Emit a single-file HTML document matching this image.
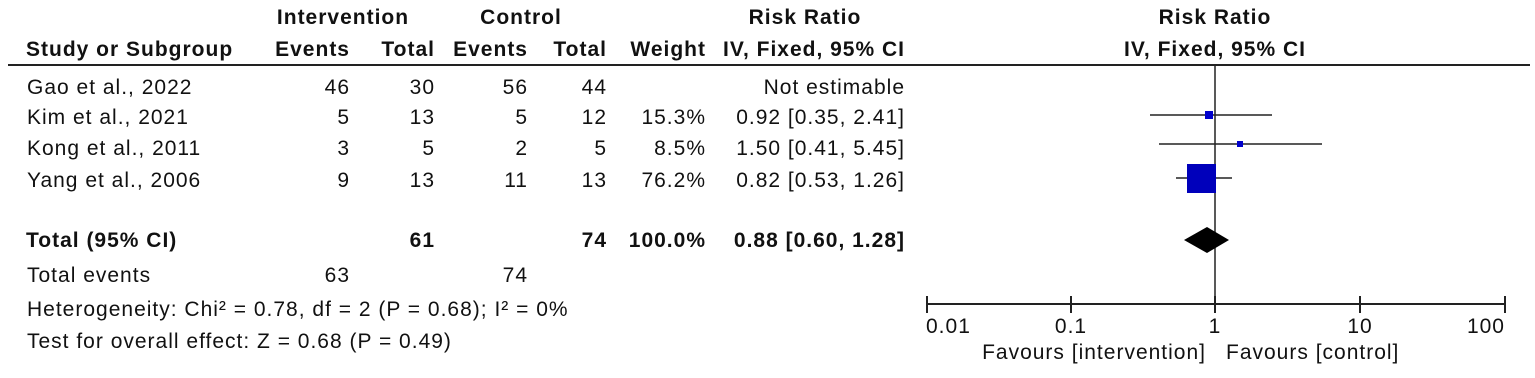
<!DOCTYPE html>
<html><head><meta charset="utf-8"><style>
body{margin:0;width:1535px;height:373px;background:#fff;overflow:hidden;font-family:"Liberation Sans",Arial,sans-serif;color:#111}
svg text{font-family:"Liberation Sans",Arial,sans-serif;font-size:21px;letter-spacing:1px;fill:#111}
</style></head><body>
<svg width="1535" height="373" xmlns="http://www.w3.org/2000/svg">
<g>
<text x="343" y="24" text-anchor="middle" font-weight="bold">Intervention</text>
<text x="521" y="24" text-anchor="middle" font-weight="bold">Control</text>
<text x="805" y="24" text-anchor="middle" font-weight="bold">Risk Ratio</text>
<text x="1215" y="24" text-anchor="middle" font-weight="bold">Risk Ratio</text>
<text x="26" y="56" font-weight="bold">Study or Subgroup</text>
<text x="350" y="56" text-anchor="end" font-weight="bold">Events</text>
<text x="435" y="56" text-anchor="end" font-weight="bold">Total</text>
<text x="528" y="56" text-anchor="end" font-weight="bold">Events</text>
<text x="607" y="56" text-anchor="end" font-weight="bold">Total</text>
<text x="706" y="56" text-anchor="end" font-weight="bold">Weight</text>
<text x="905" y="56" text-anchor="end" font-weight="bold">IV, Fixed, 95% CI</text>
<text x="1215" y="56" text-anchor="middle" font-weight="bold">IV, Fixed, 95% CI</text>
</g>
<line x1="8" y1="65" x2="1530" y2="65" stroke="#222" stroke-width="2"/>
<g>
<text x="27" y="94">Gao et al., 2022</text><text x="350" y="94" text-anchor="end">46</text><text x="435" y="94" text-anchor="end">30</text><text x="528" y="94" text-anchor="end">56</text><text x="607" y="94" text-anchor="end">44</text><text x="905" y="94" text-anchor="end">Not estimable</text>
<text x="27" y="124">Kim et al., 2021</text><text x="350" y="124" text-anchor="end">5</text><text x="435" y="124" text-anchor="end">13</text><text x="528" y="124" text-anchor="end">5</text><text x="607" y="124" text-anchor="end">12</text><text x="706" y="124" text-anchor="end">15.3%</text><text x="905" y="124" text-anchor="end">0.92 [0.35, 2.41]</text>
<text x="27" y="155">Kong et al., 2011</text><text x="350" y="155" text-anchor="end">3</text><text x="435" y="155" text-anchor="end">5</text><text x="528" y="155" text-anchor="end">2</text><text x="607" y="155" text-anchor="end">5</text><text x="706" y="155" text-anchor="end">8.5%</text><text x="905" y="155" text-anchor="end">1.50 [0.41, 5.45]</text>
<text x="27" y="187">Yang et al., 2006</text><text x="350" y="187" text-anchor="end">9</text><text x="435" y="187" text-anchor="end">13</text><text x="528" y="187" text-anchor="end">11</text><text x="607" y="187" text-anchor="end">13</text><text x="706" y="187" text-anchor="end">76.2%</text><text x="905" y="187" text-anchor="end">0.82 [0.53, 1.26]</text>
<text x="26" y="247" font-weight="bold">Total (95% CI)</text><text x="435" y="247" text-anchor="end" font-weight="bold">61</text><text x="607" y="247" text-anchor="end" font-weight="bold">74</text><text x="706" y="247" text-anchor="end" font-weight="bold">100.0%</text><text x="905" y="247" text-anchor="end" font-weight="bold">0.88 [0.60, 1.28]</text>
<text x="27" y="282">Total events</text><text x="350" y="282" text-anchor="end">63</text><text x="528" y="282" text-anchor="end">74</text>
<text x="27" y="316">Heterogeneity: Chi² = 0.78, df = 2 (P = 0.68); I² = 0%</text>
<text x="27" y="348">Test for overall effect: Z = 0.68 (P = 0.49)</text>
</g>
<line x1="1215" y1="65" x2="1215" y2="304" stroke="#222" stroke-width="1.5"/>
<line x1="1150" y1="115" x2="1272" y2="115" stroke="#222" stroke-width="1.5"/>
<rect x="1205" y="111" width="8" height="8" fill="#0000cc"/>
<line x1="1159" y1="144" x2="1322" y2="144" stroke="#222" stroke-width="1.5"/>
<rect x="1237" y="141" width="6" height="6" fill="#0000cc"/>
<line x1="1176" y1="178" x2="1232" y2="178" stroke="#222" stroke-width="1.5"/>
<rect x="1187" y="164" width="29" height="29" fill="#0000bb"/>
<polygon points="1184,240 1207,227 1229,240 1207,253" fill="#000"/>
<line x1="926" y1="304" x2="1506" y2="304" stroke="#222" stroke-width="2"/>
<g stroke="#222" stroke-width="2">
<line x1="927" y1="296" x2="927" y2="313"/><line x1="1071" y1="296" x2="1071" y2="313"/><line x1="1215" y1="296" x2="1215" y2="313"/><line x1="1360" y1="296" x2="1360" y2="313"/><line x1="1505" y1="296" x2="1505" y2="313"/>
</g>
<text x="926" y="333">0.01</text>
<text x="1071" y="333" text-anchor="middle">0.1</text>
<text x="1215" y="333" text-anchor="middle">1</text>
<text x="1360" y="333" text-anchor="middle">10</text>
<text x="1505" y="333" text-anchor="end">100</text>
<text x="1206" y="359" text-anchor="end" fill="#333">Favours [intervention]</text>
<text x="1226" y="359" fill="#333">Favours [control]</text>
</svg>
</body></html>
